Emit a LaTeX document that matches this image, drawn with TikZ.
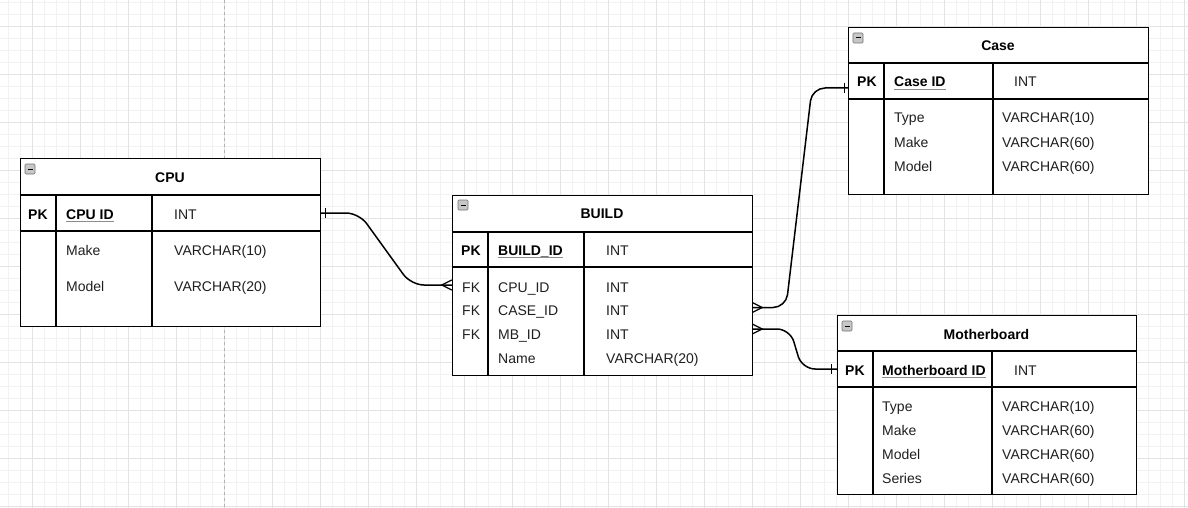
\documentclass[tikz,border=0pt]{standalone}
\usepackage{fontspec}
\setmainfont{Liberation Sans}
\begin{document}
\begin{tikzpicture}[x=1pt,y=-1pt,
  minorgrid/.style={draw=black!5, line width=0.6pt},
  majorgrid/.style={draw=black!11, line width=0.8pt},
  tbl/.style={draw=black, line width=1.2pt, fill=white, anchor=north west, inner sep=0pt},
  sep/.style={draw=black, line width=1.2pt},
  ttl/.style={font=\fontsize{14}{16}\selectfont\bfseries, inner sep=0pt},
  fld/.style={font=\fontsize{14}{16}\selectfont, anchor=base west, inner sep=0pt, text=black!88},
  pkf/.style={font=\fontsize{14}{16}\selectfont\bfseries, anchor=base west, inner sep=0pt, text=black},
  uline/.style={draw=black!45, line width=1.6pt},
  rowbox/.style={draw=none, inner sep=0pt, minimum height=24pt},
  conn/.style={draw=black, line width=1.5pt, rounded corners=13pt},
  erbar/.style={draw=black, line width=1.2pt},
  crow/.style={draw=black, line width=1.2pt},
  icon/.style={draw=black!55, fill=black!22, line width=0.6pt, rounded corners=1pt}
]
\useasboundingbox[fill=white] (0,0) rectangle (1188,508);
% grid
\foreach \x in {8,20,...,1184} \draw[minorgrid] (\x,0) -- (\x,508);
\foreach \y in {2,14,...,506} \draw[minorgrid] (0,\y) -- (1188,\y);
\foreach \x in {32,80,...,1184} \draw[majorgrid] (\x,0) -- (\x,508);
\foreach \y in {26,74,...,506} \draw[majorgrid] (0,\y) -- (1188,\y);
\draw[draw=black!30, dashed, line width=0.8pt] (224,0) -- (224,508);

% ---------- CPU ----------
\node[tbl, minimum width=300pt, minimum height=168pt] (cpu) at (20,158) {};
\draw[sep] (20,195) -- (320,195);
\draw[sep] (20,231) -- (320,231);
\draw[sep] (56,195) -- (56,326);
\draw[sep] (152,195) -- (152,326);
\draw[icon] (25,164) rectangle (35,174);
\draw[line width=1pt] (27.5,169) -- (32.5,169);
\node[ttl] (cputitle) at (170,178) {CPU};
\node[rowbox, minimum width=300pt, minimum height=36pt] (cpuPK) at (170,213) {};
\node[pkf] (cpupk) at (28,219) {PK};
\node[pkf] (cpuid) at (66,219) {CPU ID};
\draw[uline] ([yshift=-2.5pt]cpuid.base west) -- ([yshift=-2.5pt]cpuid.base east);
\node[fld] (cpuidt) at (174,219) {INT};
\node[fld] (cpumake) at (66,255) {Make};
\node[fld] (cpumaket) at (174,255) {VARCHAR(10)};
\node[fld] (cpumodel) at (66,291) {Model};
\node[fld] (cpumodelt) at (174,291) {VARCHAR(20)};

% ---------- BUILD ----------
\node[tbl, minimum width=300pt, minimum height=180pt] (build) at (452,195) {};
\draw[sep] (452,232) -- (752,232);
\draw[sep] (452,267) -- (752,267);
\draw[sep] (488,232) -- (488,375);
\draw[sep] (584,232) -- (584,375);
\draw[icon] (458,200) rectangle (468,210);
\draw[line width=1pt] (460.5,205) -- (465.5,205);
\node[ttl] (buildtitle) at (602,214) {BUILD};
\node[pkf] (buildpk) at (461,255) {PK};
\node[pkf] (buildid) at (498,255) {BUILD\_ID};
\draw[uline] ([yshift=-2.5pt]buildid.base west) -- ([yshift=-2.5pt]buildid.base east);
\node[fld] (buildidt) at (606,255) {INT};
\node[fld] (bfk1) at (462,292) {FK};
\node[fld] (bcpu) at (498,292) {CPU\_ID};
\node[fld] (bcput) at (606,292) {INT};
\node[fld] (bfk2) at (462,315) {FK};
\node[fld] (bcase) at (498,315) {CASE\_ID};
\node[fld] (bcaset) at (606,315) {INT};
\node[fld] (bfk3) at (462,339) {FK};
\node[fld] (bmb) at (498,339) {MB\_ID};
\node[fld] (bmbt) at (606,339) {INT};
\node[fld] (bname) at (498,363) {Name};
\node[fld] (bnamet) at (606,363) {VARCHAR(20)};
\node[rowbox, minimum width=300pt] (bF1) at (602,285) {};
\node[rowbox, minimum width=300pt] (bF2) at (602,307.5) {};
\node[rowbox, minimum width=300pt] (bF3) at (602,329) {};

% ---------- Case ----------
\node[tbl, minimum width=300pt, minimum height=167pt] (case) at (848,27) {};
\draw[sep] (848,63) -- (1148,63);
\draw[sep] (848,99) -- (1148,99);
\draw[sep] (884,63) -- (884,194);
\draw[sep] (993,63) -- (993,194);
\draw[icon] (853,33) rectangle (863,43);
\draw[line width=1pt] (855.5,38) -- (860.5,38);
\node[ttl] (casetitle) at (998,46) {Case};
\node[rowbox, minimum width=300pt, minimum height=36pt] (casePK) at (998,81) {};
\node[pkf] (casepk) at (857,87) {PK};
\node[pkf] (caseid) at (894,87) {Case ID};
\draw[uline] ([yshift=-2.5pt]caseid.base west) -- ([yshift=-2.5pt]caseid.base east);
\node[fld] (caseidt) at (1014,87) {INT};
\node[fld] (ctype) at (894,123) {Type};
\node[fld] (ctypet) at (1002,123) {VARCHAR(10)};
\node[fld] (cmake) at (894,147) {Make};
\node[fld] (cmaket) at (1002,147) {VARCHAR(60)};
\node[fld] (cmodel) at (894,171) {Model};
\node[fld] (cmodelt) at (1002,171) {VARCHAR(60)};

% ---------- Motherboard ----------
\node[tbl, minimum width=299pt, minimum height=179pt] (mb) at (837,315) {};
\draw[sep] (837,351) -- (1136,351);
\draw[sep] (837,387) -- (1136,387);
\draw[sep] (873,351) -- (873,494);
\draw[sep] (992,351) -- (992,494);
\draw[icon] (842,321) rectangle (852,331);
\draw[line width=1pt] (844.5,326) -- (849.5,326);
\node[ttl] (mbtitle) at (986.5,334) {Motherboard};
\node[rowbox, minimum width=299pt, minimum height=36pt] (mbPK) at (986.5,369) {};
\node[pkf] (mbpk) at (845,375) {PK};
\node[pkf] (mbid) at (882,375) {Motherboard ID};
\draw[uline] ([yshift=-2.5pt]mbid.base west) -- ([yshift=-2.5pt]mbid.base east);
\node[fld] (mbidt) at (1014,375) {INT};
\node[fld] (mtype) at (882,411) {Type};
\node[fld] (mtypet) at (1002,411) {VARCHAR(10)};
\node[fld] (mmake) at (882,435) {Make};
\node[fld] (mmaket) at (1002,435) {VARCHAR(60)};
\node[fld] (mmodel) at (882,459) {Model};
\node[fld] (mmodelt) at (1002,459) {VARCHAR(60)};
\node[fld] (mseries) at (882,483) {Series};
\node[fld] (mseriest) at (1002,483) {VARCHAR(60)};

% ---------- connectors ----------
% CPU -> BUILD
\draw[conn] (cpuPK.east) -- (359,213) -- (411,285) -- (bF1.west);
\draw[erbar] ([xshift=5pt]cpuPK.east) ++(0,-5) -- ++(0,10);
\draw[crow] (bF1.west) ++(0,-5) -- ++(-10,5) -- ++(10,5);
% BUILD -> Case
\draw[conn] (bF2.east) -- (786,307.5) -- (812,88) -- ([yshift=-7pt]casePK.west);
\draw[crow] (bF2.east) ++(0,-5) -- ++(10,5) -- ++(-10,5);
\draw[erbar] ([xshift=-3pt,yshift=-7pt]casePK.west) ++(0,-5) -- ++(0,10);
% BUILD -> Motherboard
\draw[conn] (bF3.east) -- (790,329) -- (802,369) -- (mbPK.west);
\draw[crow] (bF3.east) ++(0,-5) -- ++(10,5) -- ++(-10,5);
\draw[erbar] ([xshift=-5pt]mbPK.west) ++(0,-5) -- ++(0,10);
\end{tikzpicture}
\end{document}
